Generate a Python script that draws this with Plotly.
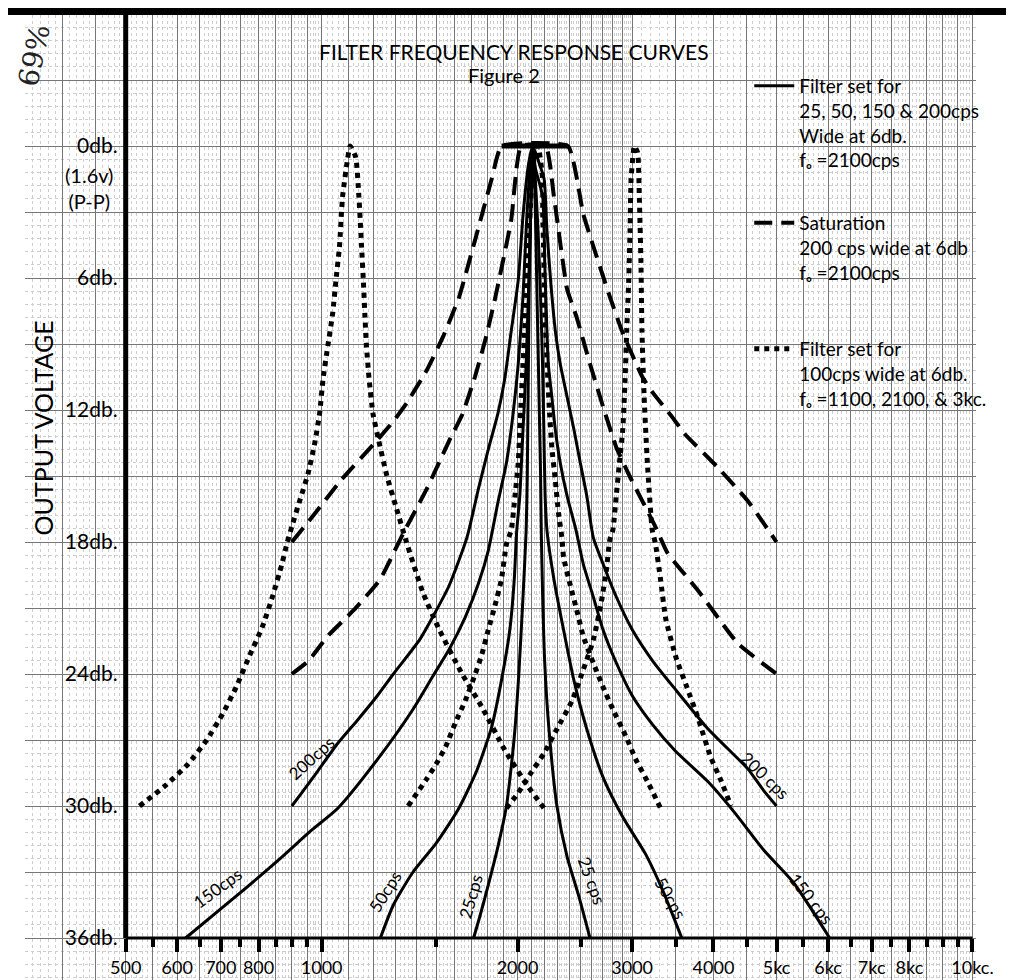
import plotly.graph_objects as go
import math

# ---------------- data (frequency in cps, attenuation in db) ----------------
# Solid: filter set for 25, 50, 150 & 200 cps wide at 6db, fo = 2100 cps
F_200 = [900, 932, 987, 1059, 1135, 1217, 1289, 1414, 1482, 1569, 1672, 1741, 1803, 1866, 1911, 1956, 2005, 2040, 2080,
         2110,
         2160, 2197, 2219, 2248, 2286, 2326, 2383, 2442, 2497, 2555, 2615, 2707, 2837, 3003, 3225, 3496, 3925, 4209, 4514, 4778, 5000]
DB_200 = [30, 29.4, 28.4, 27.15, 26.1, 25.0, 24.0, 22.45, 21.4, 20.0, 17.8, 15.6, 13.8, 12.15, 10.6, 8.4, 6.1, 3.1, 0.8,
          0,
          0.8, 1.5, 3.8, 6.1, 8.4, 9.9, 11.4, 12.9, 14.4, 15.9, 17.8, 19.0, 20.5, 22.0, 23.4, 24.7, 26.5, 27.4, 28.3, 29.3, 30]

F_150 = [618, 739, 859, 965, 1059, 1217, 1382, 1482, 1569, 1663, 1741, 1803, 1866, 1923, 1969, 2005, 2039, 2062, 2090,
         2110,
         2130, 2186, 2202, 2219, 2230, 2258, 2286, 2326, 2383, 2459, 2524, 2615, 2707, 2837, 3003, 3225, 3496, 3925, 4311, 4778, 5315, 6033]
DB_150 = [36, 34.1, 32.45, 31.1, 30.1, 27.9, 25.6, 24.1, 22.9, 21.4, 19.9, 18.4, 16.2, 14.4, 12.15, 9.9, 6.85, 3.8, 1.0,
          0,
          1.0, 2.3, 5.3, 8.4, 9.9, 11.4, 12.9, 14.4, 15.9, 17.45, 19.0, 20.5, 22.0, 23.5, 25.0, 26.3, 27.5, 28.9, 30.3, 32.0, 33.5, 36]

F_50 = [1231, 1289, 1382, 1499, 1625, 1731, 1825, 1889, 1946, 1977, 1993, 2016, 2039, 2062, 2078, 2092, 2105,
        2112,
        2125, 2150, 2170, 2185, 2195, 2205, 2219, 2275, 2354, 2442, 2555, 2707, 2902, 3148, 3350, 3576]
DB_50 = [36, 34.5, 33.0, 31.7, 30.1, 28.4, 26.4, 24.3, 22.0, 19.7, 17.6, 15.9, 12.9, 9.9, 6.85, 3.8, 1.0,
         0,
         1.0, 3.8, 6.9, 9.9, 12.9, 15.9, 17.45, 19.7, 22.0, 24.3, 26.5, 28.7, 30.5, 32.2, 33.9, 36]

F_25 = [1712, 1751, 1803, 1866, 1923, 1946, 1982, 2009, 2039, 2062, 2070, 2075, 2080, 2085, 2095, 2110,
        2115,
        2120, 2130, 2140, 2150, 2160, 2170, 2175, 2186, 2202, 2235, 2299, 2383, 2484, 2584]
DB_25 = [36, 35.0, 33.6, 31.85, 30.0, 28.8, 26.5, 24.0, 20.5, 17.45, 15, 12, 9, 6, 3, 0.5,
         0,
         0.5, 3, 6, 9, 12, 15, 17.45, 20.5, 23.5, 26.5, 30.0, 32.3, 34.1, 36]

# Dashed: saturation, 200 cps wide at 6db, fo = 2100 cps
F_SAT_A = [900, 965, 1070, 1215, 1290, 1350, 1450, 1535, 1625, 1720, 1825, 1890,
           2390, 2524, 2644, 2772, 2902, 3111, 3225, 3453, 3617, 4059, 4508, 5000]
DB_SAT_A = [18, 16.9, 15.2, 13.4, 12.5, 11.7, 10.2, 8.7, 6.9, 4.3, 1.5, 0,
            0, 3.1, 5.0, 6.85, 8.5, 10.5, 11.2, 12.3, 13.1, 14.6, 16.1, 18]

F_SAT_B = [900, 955, 1020, 1120, 1230, 1335, 1450, 1570, 1645, 1720, 1785, 1845, 1955, 2025,
           2210, 2275, 2383, 2466, 2584, 2707, 2837, 2973, 3257, 3400, 3787, 4357, 5000]
DB_SAT_B = [24, 23.4, 22.3, 21.1, 19.7, 17.6, 15.6, 13.4, 12.2, 10.5, 8.8, 7.0, 3.4, 0,
            0, 2.3, 6.5, 7.8, 9.9, 11.85, 13.7, 15.0, 17.3, 18.5, 20.2, 22.6, 24]

# Dotted: filter set for 100 cps wide at 6db, fo = 1100, 2100 & 3kc
F_D1100 = [525, 574, 623, 666, 705, 739, 774, 811, 840, 869, 884, 900, 926, 953, 976, 993, 1005, 1022, 1040, 1052, 1065, 1077, 1096,
           1106,
           1128, 1141, 1152, 1159, 1165, 1172, 1183, 1199, 1224, 1260, 1304, 1350, 1431, 1517, 1644, 1763, 1911, 2074, 2210]
DB_D1100 = [30, 29.1, 28.1, 27.0, 25.8, 24.6, 23.2, 21.85, 20.5, 19.0, 18.1, 17.3, 16.1, 14.9, 13.5, 12.15, 10.6, 9.1, 7.6, 6.1, 4.6, 2.3, 0.6,
            0,
            0.5, 2.3, 4.6, 6.1, 7.6, 9.1, 10.6, 12.15, 13.4, 15.0, 16.5, 18.0, 20.3, 22.0, 24.0, 25.5, 27.45, 29.1, 30.2]

F_D2100 = [1358, 1448, 1499, 1551, 1606, 1663, 1722, 1763, 1803, 1846, 1889, 1923, 1956, 1982, 2005, 2016, 2027, 2039, 2051, 2062, 2074, 2085, 2097, 2110,
           2150,
           2186, 2186, 2193, 2197, 2202, 2215, 2226, 2240, 2258, 2286, 2312, 2340, 2354, 2412, 2471, 2524, 2615, 2707, 2802, 2936, 3041, 3182, 3317]
DB_D2100 = [30, 28.8, 28.1, 27.3, 26.2, 25.2, 24.0, 23.1, 22.0, 20.9, 19.7, 18.1, 17.45, 15.9, 14.4, 12.9, 11.4, 9.9, 8.4, 6.85, 5.3, 3.8, 2.3, 0.8,
            0,
            1.5, 3.06, 4.6, 6.1, 7.6, 9.1, 10.6, 12.15, 13.7, 15.2, 16.7, 17.8, 18.7, 20.0, 21.2, 22.3, 23.5, 24.6, 25.6, 26.85, 27.9, 29.0, 30.1]

F_D3000 = [1923, 2005, 2097, 2197, 2299, 2427, 2524, 2615, 2687, 2738, 2772, 2802, 2836, 2868, 2902, 2926, 2943, 2964, 2978, 2989,
           3024,
           3059, 3077, 3095, 3106, 3130, 3166, 3221, 3257, 3317, 3379, 3508, 3641, 3787, 3963, 4103, 4255]
DB_D3000 = [30.1, 29.4, 28.5, 27.6, 26.5, 25.2, 23.8, 22.45, 20.8, 19.3, 17.9, 17.45, 15.9, 14.4, 12.9, 10.6, 8.4, 6.1, 3.8, 1.5,
            0,
            0.3, 2.3, 5.3, 8.4, 11.4, 14.4, 17.45, 18.06, 19.7, 21.5, 23.3, 24.6, 26.0, 27.8, 28.8, 30.0]

# axis tick labels
X_TICKS = [500, 600, 700, 800, 1000, 2000, 3000, 4000, 5000, 6000, 7000, 8000, 10000]
X_TICK_TEXT = ["500", "600", "700", "800", "1000", "2000", "3000", "4000", "5kc", "6kc", "7kc", "8kc", "10kc."]
X_MINOR_TICKS = [550, 650, 750, 850, 900, 950, 1500, 2500, 3500, 4500, 5500, 6500, 7500, 8500, 9000, 9500]
Y_TICKS = [0, 6, 12, 18, 24, 30, 36]
Y_TICK_TEXT = ["0db.", "6db.", "12db.", "18db.", "24db.", "30db.", "36db."]

# legend texts
LEG_SOLID = "Filter set for<br>25, 50, 150 & 200cps<br>Wide at 6db.<br>fₒ =2100cps"
LEG_DASH = "Saturation<br>200 cps wide at 6db<br>fₒ =2100cps"
LEG_DOT = "Filter set for<br>100cps wide at 6db.<br>fₒ =1100, 2100, & 3kc."

# curve labels: (text, freq, db, angle)
CURVE_LABELS = [("200cps", 966, 27.8, -42), ("150cps", 693, 33.7, -36), ("50cps", 1252, 33.9, -58),
                ("25cps", 1693, 34.1, -74), ("25 cps", 2600, 33.4, 70), ("50cps", 3440, 34.2, 60),
                ("200 cps", 4804, 28.6, 44), ("150 cps", 5654, 34.2, 52)]

# ---------------- graph-paper grid values ----------------
def frange(a, b, s):
    out, v = [], a
    while v <= b + 1e-9:
        out.append(round(v, 6))
        v += s
    return out

GRID_X_MED = frange(350, 1000, 50) + frange(1100, 3000, 100) + frange(3500, 10000, 500)
GRID_X_FINE = frange(350, 1000, 10) + frange(1020, 3000, 20) + frange(3100, 10000, 100)
GRID_Y_MED = frange(-6, 39, 3)
GRID_Y_FINE = frange(-6, 39, 0.6)

# the page body has an 8px margin: the figure sits at (8, 8) in the 1014x980 window
OFF = 8
W, H = 1014 - OFF, 980 - OFF
def px(xp):  # page x pixel -> paper fraction
    return (xp - OFF) / W
def py(yp):  # page y pixel -> paper fraction
    return 1 - (yp - OFF) / H

FONT = "Lato"
X_RANGE = [2.5438, 4.006]
Y_RANGE = [37.909, -5.955]
X_DOMAIN = [px(25), px(993)]
Y_DOMAIN = [0, py(15)]

fig = go.Figure()

for i, (fx, dy) in enumerate([(F_200, DB_200), (F_150, DB_150), (F_50, DB_50), (F_25, DB_25)]):
    fig.add_trace(go.Scatter(x=fx, y=dy, mode="lines",
                             line=dict(color="black", width=3, shape="spline", smoothing=0.6),
                             legend="legend", showlegend=(i == 0), name=LEG_SOLID))
for i, (fx, dy) in enumerate([(F_SAT_A, DB_SAT_A), (F_SAT_B, DB_SAT_B)]):
    fig.add_trace(go.Scatter(x=fx, y=dy, mode="lines",
                             line=dict(color="black", width=4, dash="18px,9px", shape="spline", smoothing=0.4),
                             legend="legend2", showlegend=(i == 0), name=LEG_DASH))
# the saturated (flat) top of the saturation curve is drawn as one heavy bar
top = [(f, d) for f, d in zip(F_SAT_A, DB_SAT_A) if d == 0]
fig.add_trace(go.Scatter(x=[t[0] for t in top], y=[t[1] for t in top], mode="lines",
                         line=dict(color="black", width=5), showlegend=False, hoverinfo="skip"))
for i, (fx, dy) in enumerate([(F_D1100, DB_D1100), (F_D2100, DB_D2100), (F_D3000, DB_D3000)]):
    fig.add_trace(go.Scatter(x=fx, y=dy, mode="lines",
                             line=dict(color="black", width=5, dash="5px,5px", shape="spline", smoothing=0.5),
                             legend="legend3", showlegend=(i == 0), name=LEG_DOT))

# invisible trace that carries the tick/label axes
fig.add_trace(go.Scatter(x=[X_TICKS[0]], y=[Y_TICKS[0]], xaxis="x2", yaxis="y2", mode="markers",
                         marker=dict(opacity=0), showlegend=False, hoverinfo="skip"))

# axis lines (at the 500 cps / 36 db corner)
fig.add_shape(type="line", xref="x", yref="y", x0=X_TICKS[0], x1=X_TICKS[0], y0=Y_TICKS[-1], y1=Y_RANGE[1],
              line=dict(color="black", width=5))
fig.add_shape(type="line", xref="x", yref="y", x0=X_TICKS[0], x1=X_TICKS[-1], y0=Y_TICKS[-1], y1=Y_TICKS[-1],
              line=dict(color="black", width=3))
# heavy top border of the sheet
fig.add_shape(type="rect", xref="paper", yref="paper", x0=-0.01, x1=1.01, y0=py(15), y1=py(8),
              fillcolor="black", line=dict(width=0))

def note(text, xp, yp, size, angle=0, family=FONT, color="black", xanchor="center", align="center"):
    return dict(text=text, x=px(xp), y=py(yp), xref="paper", yref="paper", xanchor=xanchor, yanchor="middle",
                textangle=angle, align=align, showarrow=False, font=dict(family=family, size=size, color=color))

ann = [
    note("FILTER FREQUENCY RESPONSE CURVES", 523, 51, 21),
    note("Figure 2", 513, 75, 20),
    note("OUTPUT VOLTAGE", 44, 428, 25, angle=-90),
    note("(1.6v)<br>(P-P)", 117, 188, 20, xanchor="right"),
    note("69%", 34, 56, 28, angle=-78, family="DejaVu Serif", color="#222"),
]
for t, fx, dy, ang in CURVE_LABELS:
    ann.append(dict(text=t, x=math.log10(fx), y=dy, xref="x", yref="y", textangle=ang, showarrow=False,
                    xanchor="center", yanchor="middle", font=dict(family=FONT, size=17, color="black")))

leg_common = dict(xanchor="left", yanchor="top", bgcolor="rgba(0,0,0,0)",
                  font=dict(family=FONT, size=19, color="black"), valign="top", itemwidth=40)

fig.update_layout(
    width=W, height=H, autosize=False,
    margin=dict(l=0, r=0, t=0, b=0, pad=0),
    paper_bgcolor="white", plot_bgcolor="white",
    showlegend=True,
    legend=dict(x=px(762), y=py(67), **leg_common),
    legend2=dict(x=px(762), y=py(204), **leg_common),
    legend3=dict(x=px(762), y=py(330), **leg_common),
    annotations=ann,
    xaxis=dict(type="log", domain=X_DOMAIN, range=X_RANGE, tickmode="array", tickvals=GRID_X_MED,
               showticklabels=False, ticks="", showgrid=True, gridcolor="#767676", gridwidth=1,
               showline=False, zeroline=False,
               minor=dict(tickmode="array", tickvals=GRID_X_FINE, showgrid=True, gridcolor="#cdcdcd",
                          gridwidth=1, griddash="dot", ticks="")),
    yaxis=dict(domain=Y_DOMAIN, range=Y_RANGE, tickmode="array", tickvals=GRID_Y_MED,
               showticklabels=False, ticks="", showgrid=True, gridcolor="#767676", gridwidth=1,
               showline=False, zeroline=False,
               minor=dict(tickmode="array", tickvals=GRID_Y_FINE, showgrid=True, gridcolor="#cdcdcd",
                          gridwidth=1, griddash="dot", ticks="")),
    xaxis2=dict(type="log", overlaying="x", range=X_RANGE, anchor="free", position=py(938), side="bottom",
                tickmode="array", tickvals=X_TICKS, ticktext=X_TICK_TEXT, ticks="outside", ticklen=13,
                tickwidth=4, tickcolor="black", showgrid=False, showline=False, zeroline=False,
                tickfont=dict(family=FONT, size=18, color="black"),
                minor=dict(tickmode="array", tickvals=X_MINOR_TICKS, ticks="outside", ticklen=8,
                           tickwidth=4, tickcolor="black", showgrid=False)),
    yaxis2=dict(overlaying="y", range=Y_RANGE, anchor="free", position=px(127.7), side="left",
                tickmode="array", tickvals=Y_TICKS, ticktext=Y_TICK_TEXT, ticks="", showgrid=False,
                showline=False, zeroline=False, ticklabelstandoff=8,
                tickfont=dict(family=FONT, size=21, color="black")),
)

fig.write_html("out.html")
